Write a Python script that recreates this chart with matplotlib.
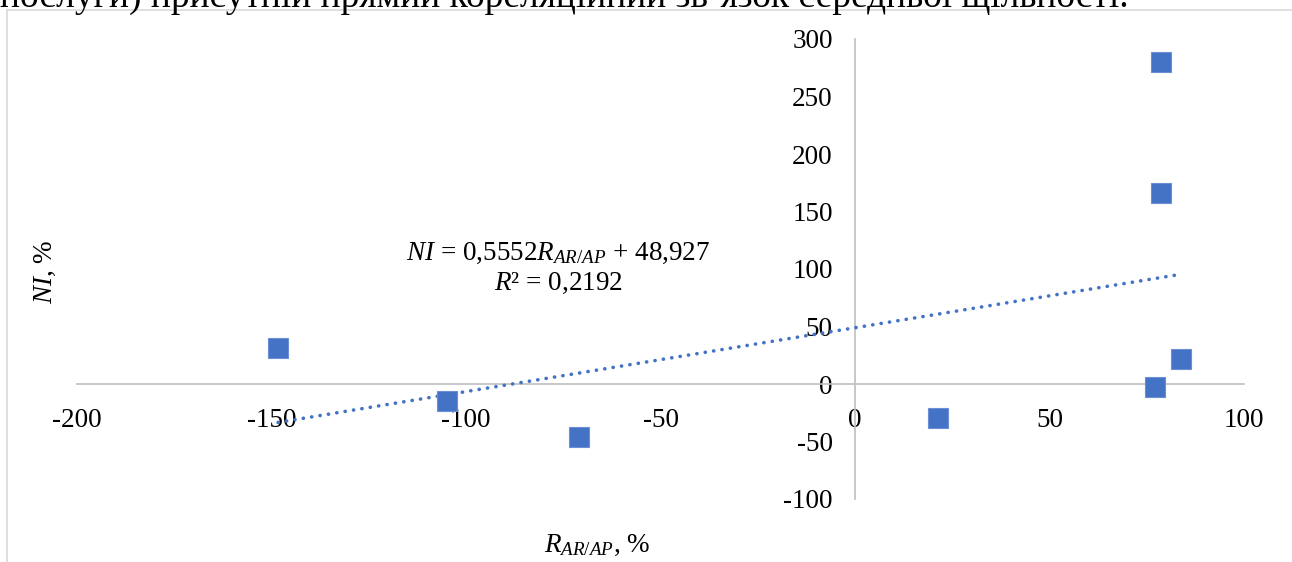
import matplotlib
matplotlib.use("Agg")
import matplotlib.pyplot as plt
from matplotlib.lines import Line2D
import numpy as np

# значення
r_ar_ap = [-148.3, -104.9, -71.0, 21.3, 77.1, 78.7, 78.7, 83.8]
ni = [31.3, -14.8, -45.8, -29.6, -2.6, 166.0, 280.0, 21.7]

nahyl = 0.5552
vilnyi_chlen = 48.927

x_ticks = [-200, -150, -100, -50, 0, 50, 100]
y_ticks = [-100, -50, 0, 50, 100, 150, 200, 250, 300]

kolir = "#4472C4"
kolir_osi = "#BFBFBF"

plt.rcParams["font.family"] = ["Liberation Serif", "DejaVu Serif"]
plt.rcParams["mathtext.fontset"] = "custom"
plt.rcParams["mathtext.rm"] = "Liberation Serif"
plt.rcParams["mathtext.it"] = "Liberation Serif:italic"
plt.rcParams["axes.unicode_minus"] = False

W, H = 1292, 562
fig = plt.figure(figsize=(W / 100, H / 100), dpi=100)

# рамка області діаграми
fig.add_artist(Line2D([7 / W, 7 / W], [0, 1 - 10 / H], color="#D9D9D9", lw=1.2))
fig.add_artist(Line2D([7 / W, 1], [1 - 10 / H, 1 - 10 / H], color="#D9D9D9", lw=1.2))

# обрізаний рядок тексту зверху (як у вихідному знімку)
fig.text(0, 1 - 7 / H,
         "послуги) присутній прямий кореляційний зв’язок середньої щільності.",
         fontsize=27, va="baseline", ha="left", color="black")

ax = fig.add_axes([77 / W, (H - 499) / H, (1244 - 77) / W, (499 - 39) / H])
ax.set_xlim(-200, 100)
ax.set_ylim(-100, 300)
ax.patch.set_alpha(0)

for s in ["top", "right"]:
    ax.spines[s].set_visible(False)
ax.spines["left"].set_position(("data", 0))
ax.spines["bottom"].set_position(("data", 0))
for s in ["left", "bottom"]:
    ax.spines[s].set_color(kolir_osi)
    ax.spines[s].set_linewidth(1.2)

ax.set_xticks(x_ticks)
ax.set_xticklabels([str(v) for v in x_ticks])
ax.set_yticks(y_ticks)
ax.set_yticklabels([str(v) for v in y_ticks])
ax.tick_params(axis="x", length=0, pad=17, labelsize=19.5)
ax.tick_params(axis="y", length=0, pad=16, labelsize=19.5)

# лінія тренду
xt = np.array([min(r_ar_ap), max(r_ar_ap)])
ax.plot(xt, nahyl * xt + vilnyi_chlen, color=kolir, lw=2.6,
        linestyle=(0, (0.05, 2.3)), dash_capstyle="round", zorder=3)

ax.plot(r_ar_ap, ni, linestyle="none", marker="s", markersize=14.4,
        color=kolir, markeredgecolor="#6A8FD6", markeredgewidth=0.8,
        zorder=4, clip_on=False)

fig.text(558 / W, 1 - 253 / H, r"$NI$ = 0,5552$R_{AR/AP}$ + 48,927",
         fontsize=19.5, ha="center", va="center")
fig.text(558 / W, 1 - 283 / H, r"$R$² = 0,2192",
         fontsize=19.5, ha="center", va="center")

fig.text(45 / W, 1 - 272 / H, r"$NI$, %", fontsize=19.5, rotation=90,
         ha="center", va="center")
fig.text(597 / W, 1 - 545 / H, r"$R_{AR/AP}$, %", fontsize=19.5,
         ha="center", va="center")

fig.savefig("out.png", dpi=100)
